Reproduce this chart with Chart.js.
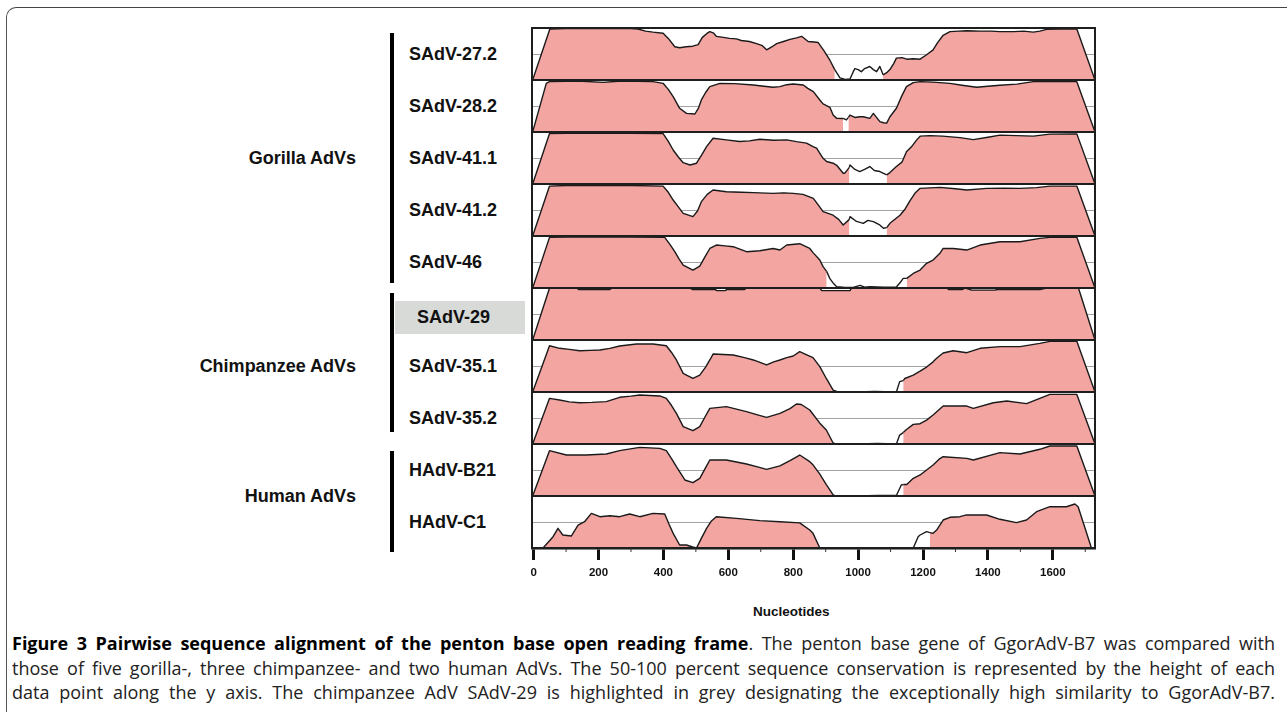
<!DOCTYPE html>
<html lang="en">
<head>
    <meta charset="UTF-8">
    <title>Figure 3 - Pairwise sequence alignment of the penton base</title>
    <script src="https://cdn.jsdelivr.net/npm/chart.js"></script>
    <style>
        html, body {
            margin: 0;
            padding: 0;
            background: #fff;
            width: 1287px;
            height: 712px;
            overflow: hidden;
            font-family: "Liberation Sans", Arial, sans-serif;
        }
        .frame {
            position: absolute;
            left: 6px;
            top: 7px;
            width: 1280px;
            height: 705px;
            border-left: 1.5px solid #555;
            border-top: 1.5px solid #444;
            border-top-left-radius: 10px;
        }
        #plotWrap {
            position: absolute;
            left: 530px;
            top: 26px;
            width: 567px;
            height: 562px;
        }
        .rowLabel, .groupLabel, .axisTitle {
            position: absolute;
            font-weight: bold;
            color: #111;
            white-space: nowrap;
        }
        .rowLabel { font-size: 18px; line-height: 20px; }
        .groupLabel { font-size: 18px; line-height: 20px; text-align: right; }
        .groupBar { position: absolute; width: 4px; background: #000; }
        .highlight { position: absolute; background: #d7dad7; }
        .axisTitle { font-size: 13.5px; }
        .caption {
            position: absolute;
            left: 12px;
            top: 631px;
            width: 1263px;
            font-family: "Open Sans", sans-serif;
            font-size: 18px;
            line-height: 24.5px;
            color: #222;
        }
        .caption div { text-align: justify; text-align-last: justify; white-space: nowrap; }
        .caption b { font-weight: bold; color: #000; }
    </style>
</head>
<body>
    <div class="frame"></div>
    <div id="plotWrap"><canvas id="vistaChart"></canvas></div>
    <div class="axisTitle" style="left:753px; top:604px;">Nucleotides</div>
    <div class="caption">
        <div><b>Figure 3 Pairwise sequence alignment of the penton base open reading frame</b>. The penton base gene of GgorAdV-B7 was compared with</div>
        <div>those of five gorilla-, three chimpanzee- and two human AdVs. The 50-100 percent sequence conservation is represented by the height of each</div>
        <div>data point along the y axis. The chimpanzee AdV SAdV-29 is highlighted in grey designating the exceptionally high similarity to GgorAdV-B7.</div>
    </div>

    <script>
        // Nomes das linhas (de cima para baixo) e grupos
        const rowLabels = ['SAdV-27.2', 'SAdV-28.2', 'SAdV-41.1', 'SAdV-41.2', 'SAdV-46',
                           'SAdV-29', 'SAdV-35.1', 'SAdV-35.2', 'HAdV-B21', 'HAdV-C1'];
        const groupLabels = ['Gorilla AdVs', 'Chimpanzee AdVs', 'Human AdVs'];
        const groupRows = [[0, 4], [5, 7], [8, 9]];
        const highlightedRow = 'SAdV-29';
        const xTickLabels = [0, 200, 400, 600, 800, 1000, 1200, 1400, 1600];

        // posição (nucleotídeo) e % de identidade
        const pos27_2 = [-3, 50, 100, 150, 200, 250, 300, 322, 345, 368, 399, 415, 435, 450, 470, 490, 507, 520, 535, 543, 555, 563, 585, 604, 625, 640, 665, 687, 705, 718, 735, 749, 770, 790, 810, 826, 846, 865, 877, 895, 913, 928, 944, 960, 975, 985, 990, 1000, 1010, 1020, 1036, 1047, 1057, 1067, 1077, 1088, 1098, 1110, 1118, 1135, 1150, 1170, 1191, 1210, 1231, 1245, 1262, 1283, 1310, 1335, 1376, 1410, 1437, 1480, 1510, 1540, 1560, 1581, 1620, 1674, 1730];
        const val27_2 = [50, 99, 99.5, 99.5, 99.5, 99.5, 99.5, 99, 97, 96, 95, 90, 82, 81, 82, 82.5, 84, 91, 95, 96.5, 95, 92, 91, 90, 89.5, 88, 87, 85, 83, 79, 82, 85, 87, 89, 90.5, 92, 87, 86.5, 86, 78, 69, 60, 52, 50.6, 51, 58, 61, 60, 58, 61, 63, 60, 58, 63, 55, 57, 60, 66, 71, 71.5, 70, 70.5, 70, 74, 79, 86, 93, 96.5, 97, 97.4, 97, 97, 96.5, 96.5, 97, 96, 97, 98.7, 99, 99, 50];
        const cons27_2 = [[-3, 928], [1077, 1730]];

        const pos28_2 = [-3, 39, 49, 100, 150, 214, 260, 320, 368, 399, 415, 430, 450, 471, 497, 508, 517, 530, 543, 574, 620, 677, 710, 738, 759, 780, 800, 831, 845, 862, 882, 892, 913, 923, 934, 954, 964, 970, 975, 990, 1005, 1016, 1036, 1047, 1067, 1078, 1088, 1098, 1118, 1135, 1149, 1170, 1191, 1230, 1283, 1320, 1365, 1400, 1437, 1489, 1540, 1600, 1674, 1730];
        const val28_2 = [50, 96.8, 98.4, 98.8, 98.8, 97.7, 98.8, 98.8, 98.4, 96.8, 91, 84, 72.8, 67.9, 67.3, 73, 80.8, 88, 93.6, 96.8, 96.5, 95.2, 94, 93, 93.6, 95.5, 96.2, 95.2, 92, 88.8, 80.8, 77, 73.7, 66.3, 63.1, 63, 61.6, 64, 66.3, 64, 64.7, 64.7, 63.1, 67.9, 60, 58.9, 58.5, 64.7, 72.8, 85, 93.6, 97.5, 98.4, 98, 96.8, 95, 93, 94, 95, 96, 98.4, 98.4, 98.4, 50];
        const cons28_2 = [[-3, 954], [970, 1730]];

        const pos41_1 = [-3, 49, 100, 200, 300, 399, 415, 430, 446, 461, 482, 502, 518, 533, 553, 594, 635, 665, 697, 740, 780, 810, 841, 861, 872, 892, 903, 923, 934, 954, 959, 973, 975, 990, 1005, 1020, 1036, 1050, 1067, 1088, 1098, 1118, 1135, 1149, 1165, 1180, 1191, 1221, 1260, 1314, 1355, 1400, 1437, 1490, 1540, 1591, 1674, 1730];
        const val41_1 = [50, 98.5, 98.8, 98.8, 98.8, 98.5, 91, 82.7, 76, 70.5, 68.3, 70, 78, 86, 94, 92.4, 90.8, 91.5, 93, 92, 92.4, 90.7, 89.3, 85.9, 84.5, 74.7, 71.6, 70, 68, 60.3, 60.4, 66, 68.3, 64, 62, 64, 66.8, 63, 62, 58.8, 61, 66.8, 71, 81.1, 86, 92.2, 96, 96.5, 96, 94.6, 92.7, 95, 97, 96.5, 96, 98, 98.2, 50];
        const cons41_1 = [[-3, 973], [1088, 1730]];

        const pos41_2 = [-3, 49, 100, 200, 300, 399, 415, 430, 446, 461, 491, 505, 517, 535, 553, 594, 640, 677, 738, 770, 800, 830, 862, 877, 892, 923, 940, 954, 973, 975, 995, 1016, 1030, 1047, 1065, 1078, 1088, 1098, 1129, 1145, 1160, 1175, 1191, 1252, 1300, 1335, 1396, 1450, 1499, 1550, 1591, 1674, 1730];
        const val41_2 = [50, 98, 98.5, 98.5, 98.5, 98, 92, 84.6, 78, 71.8, 68.6, 74, 83, 90, 94.2, 92.6, 92, 91.7, 91, 91.5, 91, 90, 86.2, 80, 73.4, 70, 66, 60.6, 66, 68.6, 64, 62.2, 65, 63.8, 61, 57.4, 58, 62.2, 70, 76, 84, 91, 95.8, 96.8, 95.5, 94.2, 95.8, 96, 95.8, 96.5, 98, 98, 50];
        const cons41_2 = [[-3, 973], [1088, 1730]];

        const pos46 = [-3, 49, 100, 200, 300, 404, 420, 435, 448, 461, 491, 512, 528, 543, 563, 590, 615, 656, 697, 738, 759, 780, 820, 851, 861, 882, 892, 903, 913, 925, 934, 960, 985, 1006, 1020, 1036, 1080, 1118, 1129, 1139, 1150, 1170, 1191, 1211, 1231, 1252, 1262, 1293, 1335, 1376, 1437, 1499, 1560, 1591, 1674, 1730];
        const val46 = [50, 98.7, 99, 99, 99, 98.7, 92, 84.9, 78, 72, 67.2, 71, 80, 88, 91.3, 90.5, 89.7, 84.9, 85.8, 88, 86.5, 91.3, 92.6, 88, 84, 76.9, 70.5, 66, 59, 54, 51.3, 50.6, 50.6, 52.6, 50.8, 51.3, 50.8, 51, 55, 59.3, 59.3, 64, 67.3, 73.7, 76.9, 83.3, 88, 88, 86.5, 91.3, 94.5, 94.5, 97.7, 98.7, 98.7, 50];
        const cons46 = [[-3, 903], [1150, 1730]];

        const pos29 = [-3, 49, 132, 140, 234, 242, 481, 490, 560, 565, 590, 595, 650, 656, 882, 888, 975, 980, 1273, 1280, 1320, 1330, 1350, 1420, 1430, 1560, 1581, 1679, 1730];
        const val29 = [50, 100, 100, 98.5, 98.5, 100, 100, 98.5, 98.5, 97.5, 97.5, 98.5, 98.5, 100, 100, 97.5, 97.5, 100, 100, 98.5, 98.5, 100, 98, 98, 98.5, 98.5, 100, 100, 50];
        const cons29 = [[-3, 1730]];

        const pos35_1 = [-3, 49, 80, 110, 142, 175, 204, 235, 265, 317, 368, 409, 425, 440, 461, 471, 491, 512, 530, 543, 553, 585, 615, 650, 677, 718, 740, 759, 780, 800, 820, 840, 861, 882, 902, 923, 938, 1000, 1050, 1118, 1128, 1139, 1144, 1170, 1191, 1211, 1231, 1242, 1262, 1293, 1335, 1376, 1437, 1499, 1560, 1591, 1674, 1730];
        const val35_1 = [50, 94.5, 92, 91, 89.7, 90, 90.4, 92, 94.2, 96.2, 96.2, 94.5, 88, 80.8, 67.9, 66.3, 63, 66.3, 74, 80.8, 86.5, 86, 85.6, 83, 80.8, 76, 79, 80.8, 83, 84.6, 88.8, 86, 83, 74.4, 63, 51.9, 50, 50, 50.5, 50, 60, 61, 63, 66.3, 70, 74, 79, 82.4, 87.5, 89.7, 87.8, 92, 93.6, 93.6, 96.8, 98.7, 98.7, 50];
        const cons35_1 = [[-3, 938], [1139, 1730]];

        const pos35_2 = [-3, 49, 80, 110, 142, 180, 224, 265, 300, 327, 389, 409, 425, 440, 461, 491, 512, 528, 543, 594, 656, 690, 718, 759, 790, 810, 825, 851, 882, 902, 923, 930, 1000, 1060, 1118, 1128, 1139, 1149, 1170, 1191, 1211, 1231, 1262, 1335, 1355, 1417, 1458, 1519, 1560, 1591, 1674, 1730];
        const val35_2 = [50, 93.9, 92.3, 90.5, 89.7, 90, 90.7, 94.9, 96, 97.1, 96.2, 93.9, 87, 79.5, 66.7, 62.8, 66.7, 76, 84.3, 85.9, 81.1, 78, 75.6, 79.5, 84, 88.5, 88, 82.7, 70, 63.5, 51, 50, 50, 50.5, 50, 58.6, 61, 64, 68.9, 69.5, 73, 77.9, 86.5, 86.5, 84.3, 89.7, 91.3, 88.8, 93.9, 97.7, 97.7, 50];
        const cons35_2 = [[-3, 930], [1139, 1730]];

        const posB21 = [-3, 49, 101, 162, 224, 265, 327, 389, 409, 425, 440, 466, 491, 512, 528, 543, 594, 656, 690, 718, 759, 790, 820, 851, 861, 882, 902, 923, 930, 1000, 1060, 1118, 1133, 1139, 1150, 1170, 1191, 1211, 1231, 1252, 1262, 1335, 1355, 1437, 1499, 1560, 1591, 1674, 1730];
        const valB21 = [50, 93.6, 89.4, 89.4, 90.4, 93.6, 96.8, 95.8, 93.6, 86, 78.2, 65.4, 62.8, 67, 76, 84.6, 84.6, 80.8, 78, 75.6, 79, 84, 89.4, 83, 80, 71, 61, 51, 50, 50, 50.5, 50.5, 60.6, 61, 61, 67, 70.2, 75, 79.8, 86, 87.8, 86.2, 84.6, 91.7, 90.4, 94.9, 98.1, 98.1, 50];
        const consB21 = [[-3, 930], [1139, 1730]];

        const posC1 = [29, 60, 75, 90, 116, 137, 157, 178, 204, 235, 265, 296, 327, 368, 404, 417, 430, 450, 471, 490, 502, 518, 533, 548, 563, 625, 697, 759, 820, 851, 861, 882, 1000, 1170, 1185, 1191, 1211, 1221, 1231, 1242, 1262, 1283, 1314, 1334, 1396, 1437, 1488, 1519, 1550, 1591, 1642, 1668, 1678, 1719];
        const valC1 = [50, 60.9, 68.9, 62.5, 61.5, 72.1, 75.3, 83.3, 80.1, 81, 80.1, 82.7, 80.1, 83.3, 82.7, 73, 64.1, 52.9, 52.9, 51, 50, 60, 68.9, 76, 80.1, 78.5, 76.3, 75.3, 74.2, 67.3, 64.1, 50, 50, 50, 60.9, 62.5, 65.7, 64.8, 64.1, 67.3, 76.9, 79.5, 80.1, 81.8, 81.7, 77.6, 74.4, 76.9, 84.9, 89.7, 89.7, 92.3, 89.7, 50];
        const consC1 = [[29, 882], [1221, 1719]];

        const rowPositions = [pos27_2, pos28_2, pos41_1, pos41_2, pos46, pos29, pos35_1, pos35_2, posB21, posC1];
        const rowValues = [val27_2, val28_2, val41_1, val41_2, val46, val29, val35_1, val35_2, valB21, valC1];
        const rowConserved = [cons27_2, cons28_2, cons41_1, cons41_2, cons46, cons29, cons35_1, cons35_2, consB21, consC1];

        const PINK = '#f3a5a1';
        const NONE = 'rgba(0,0,0,0)';

        function inConserved(ranges, a, b) {
            return ranges.some(r => a >= r[0] && b <= r[1]);
        }

        // moldura dos painéis + ticks menores do eixo x
        const panelFrame = {
            id: 'panelFrame',
            afterDatasetsDraw(chart) {
                const {ctx, chartArea: a} = chart;
                ctx.save();
                ctx.strokeStyle = '#1e1e1e';
                ctx.lineWidth = 2;
                ctx.strokeRect(a.left, a.top, a.right - a.left, a.bottom - a.top);
                rowLabels.forEach((_, i) => {
                    const s = chart.scales['y' + i];
                    ctx.beginPath();
                    ctx.moveTo(a.left, s.bottom);
                    ctx.lineTo(a.right, s.bottom);
                    ctx.stroke();
                });
                const x = chart.scales.x;
                ctx.lineWidth = 1;
                ctx.strokeStyle = '#333';
                x.ticks.forEach(t => {
                    if (xTickLabels.includes(t.value)) return;
                    const px = x.getPixelForValue(t.value);
                    ctx.beginPath();
                    ctx.moveTo(px, a.bottom);
                    ctx.lineTo(px, a.bottom + 4);
                    ctx.stroke();
                });
                ctx.restore();
            }
        };

        const scales = {
            x: {
                type: 'linear',
                min: -5,
                max: 1730,
                afterFit: s => { s.height = 40; s.paddingLeft = 0; s.paddingRight = 0; },
                border: { display: true, color: '#111', width: 2.5 },
                grid: {
                    drawOnChartArea: false,
                    tickLength: 12,
                    tickWidth: 3,
                    tickColor: c => xTickLabels.includes(c.tick.value) ? '#111' : NONE
                },
                ticks: {
                    stepSize: 100,
                    includeBounds: false,
                    autoSkip: false,
                    maxRotation: 0,
                    padding: 6,
                    color: '#111',
                    font: { family: '"Liberation Sans", Arial, sans-serif', size: 11.5, weight: 'bold' },
                    callback: v => xTickLabels.includes(v) ? String(v) : ''
                }
            }
        };
        // eixos empilhados: o último definido fica em cima, por isso a ordem invertida
        for (let i = rowLabels.length - 1; i >= 0; i--) {
            scales['y' + i] = {
                type: 'linear',
                position: 'left',
                stack: 'rows',
                stackWeight: 1,
                min: 50,
                max: 100,
                afterFit: s => { s.width = 0; },
                border: { display: true, color: '#1e1e1e', width: 2 },
                grid: {
                    drawTicks: false,
                    color: c => c.tick.value === 75 ? '#a3a3a3' : NONE,
                    lineWidth: 1
                },
                ticks: { display: false, stepSize: 25 }
            };
        }

        const datasets = rowLabels.map((name, i) => ({
            label: name,
            yAxisID: 'y' + i,
            data: rowPositions[i].map((p, k) => ({ x: p, y: rowValues[i][k] })),
            borderColor: '#1a1a1a',
            borderWidth: 1.4,
            borderJoinStyle: 'round',
            pointRadius: 0,
            tension: 0,
            fill: 'start',
            backgroundColor: PINK,
            segment: {
                backgroundColor: c => inConserved(rowConserved[i], c.p0.parsed.x, c.p1.parsed.x) ? PINK : NONE
            }
        }));

        const chart = new Chart(document.getElementById('vistaChart'), {
            type: 'line',
            data: { datasets },
            options: {
                responsive: true,
                maintainAspectRatio: false,
                animation: false,
                layout: { padding: { left: 2, right: 2, top: 2, bottom: 0 } },
                plugins: { legend: { display: false }, tooltip: { enabled: false } },
                scales
            },
            plugins: [panelFrame]
        });

        // rótulos à esquerda, alinhados com cada painel
        const wrap = document.getElementById('plotWrap');
        const offTop = wrap.offsetTop;
        rowLabels.forEach((name, i) => {
            const s = chart.scales['y' + i];
            const mid = offTop + (s.top + s.bottom) / 2;
            if (name === highlightedRow) {
                const box = document.createElement('div');
                box.className = 'highlight';
                box.style.cssText = `left:395px; width:130px; top:${mid - 13}px; height:33px;`;
                document.body.appendChild(box);
            }
            const el = document.createElement('div');
            el.className = 'rowLabel';
            el.textContent = name;
            el.style.left = (name === highlightedRow ? 417 : 409) + 'px';
            el.style.top = (mid - 10 + (name === highlightedRow ? 3 : 0)) + 'px';
            document.body.appendChild(el);
        });

        const barSpans = [[33, 283], [293, 432], [451, 552]];
        groupLabels.forEach((name, g) => {
            const top = chart.scales['y' + groupRows[g][0]].top;
            const bottom = chart.scales['y' + groupRows[g][1]].bottom;
            const mid = offTop + (top + bottom) / 2;
            const el = document.createElement('div');
            el.className = 'groupLabel';
            el.textContent = name;
            el.style.cssText = `right:${1287 - 356}px; top:${mid - 10}px;`;
            document.body.appendChild(el);
            const bar = document.createElement('div');
            bar.className = 'groupBar';
            bar.style.cssText = `left:390px; top:${barSpans[g][0]}px; height:${barSpans[g][1] - barSpans[g][0]}px;`;
            document.body.appendChild(bar);
        });
    </script>
</body>
</html>
